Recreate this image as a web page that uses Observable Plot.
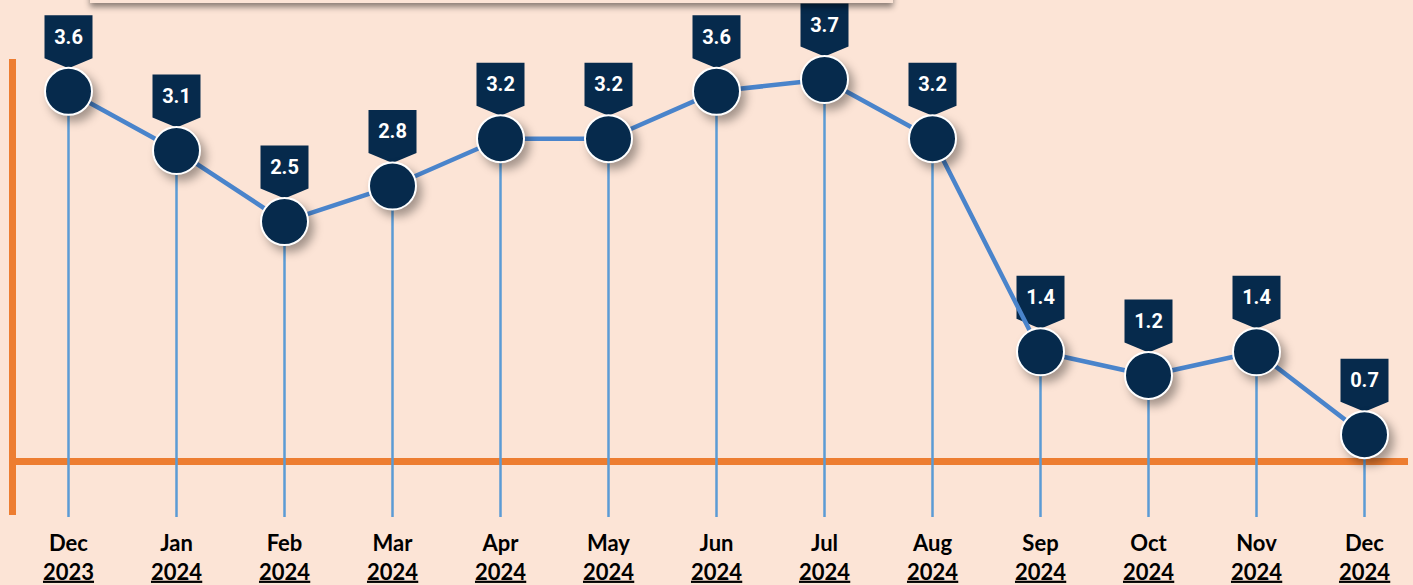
<!DOCTYPE html>
<html>
<head>
<meta charset="utf-8">
<script src="https://cdn.jsdelivr.net/npm/d3@7"></script>
<script src="https://cdn.jsdelivr.net/npm/@observablehq/plot@0.6"></script>
<style>
  html, body { margin: 0; padding: 0; background: #FCE4D6; }
  #wrap { position: relative; width: 1413px; height: 585px; overflow: hidden; background: #FCE4D6; }
  #titlebox { position: absolute; left: 90px; top: -40px; width: 803px; height: 43px; background: #FCE4D6; box-shadow: 0 4px 6px rgba(0,0,0,0.45); }
  #axisV { position: absolute; left: 9px; top: 59px; width: 7px; height: 456px; background: #ED7D31; }
  #axisH { position: absolute; left: 9px; top: 458px; width: 1399px; height: 7px; background: #ED7D31; }
  #chart { position: absolute; left: 0; top: 0; }
  #chart svg { background: transparent !important; overflow: visible; }
</style>
</head>
<body>
<div id="wrap">
  <div id="axisV"></div>
  <div id="axisH"></div>
  <div id="chart"></div>
  <div id="titlebox"></div>
</div>
<script>
const months = ["Dec","Jan","Feb","Mar","Apr","May","Jun","Jul","Aug","Sep","Oct","Nov","Dec"];
const years  = ["2023","2024","2024","2024","2024","2024","2024","2024","2024","2024","2024","2024","2024"];
const values = [3.6, 3.1, 2.5, 2.8, 3.2, 3.2, 3.6, 3.7, 3.2, 1.4, 1.2, 1.4, 0.7];

const data = months.map((m, i) => ({key: m + " " + years[i], month: m, year: years[i], value: values[i]}));

const navy = "#062A4C";
const calloutSymbol = {
  draw(context) {
    context.moveTo(-24, -76);
    context.lineTo(24, -76);
    context.lineTo(24, -33);
    context.lineTo(0, -23);
    context.lineTo(-24, -33);
    context.closePath();
  }
};

const chart = Plot.plot({
  width: 1413,
  height: 585,
  marginLeft: 65,
  marginRight: 47,
  marginTop: 79,
  marginBottom: 68,
  style: {background: "transparent", overflow: "visible"},
  x: {type: "point", domain: data.map(d => d.key), padding: 0, axis: null},
  y: {domain: [0, 3.7], axis: null},
  marks: [
    Plot.ruleX(data, {x: "key", y1: "value", y2: 0, stroke: "#5B9BD5", strokeWidth: 2.5}),
    Plot.dot(data, {x: "key", y: "value", symbol: calloutSymbol, r: 10, fill: navy, stroke: "none"}),
    Plot.lineY(data, {x: "key", y: "value", stroke: "#4A84CB", strokeWidth: 4.5}),
    Plot.dot(data, {x: "key", y: "value", r: 23.5, fill: navy, stroke: "white", strokeWidth: 2}),
    Plot.text(data, {x: "key", y: "value", text: d => d.value.toFixed(1), dy: -54, fill: "white", fontSize: 20, fontWeight: "bold", fontFamily: "Roboto"}),
    Plot.text(data, {x: "key", text: "month", frameAnchor: "bottom", dy: 33, fill: "black", fontSize: 22, fontWeight: "bold", fontFamily: "Lato"}),
    Plot.text(data, {x: "key", text: "year", frameAnchor: "bottom", dy: 62, fill: "black", fontSize: 22, fontWeight: "bold", fontFamily: "Lato"})
  ]
});

document.getElementById("chart").appendChild(chart);
const groups = Array.from(chart.children).filter(n => n.tagName.toLowerCase() === "g");

// soft shadow under the circle markers
const circleG = groups.find(g => g.querySelector("circle"));
if (circleG) d3.select(circleG).style("filter", "drop-shadow(5px 6px 5px rgba(0,0,0,0.35))");

// underline each year label (decoration derived from the rendered text box)
const yearG = groups.find(g => { const t = g.querySelector("text"); return t && t.textContent === years[0]; });
if (yearG) {
  d3.select(yearG).selectAll("text").each(function() {
    const b = this.getBBox();
    d3.select(yearG).append("rect")
      .attr("transform", this.getAttribute("transform"))
      .attr("x", b.x).attr("width", b.width)
      .attr("y", b.y + b.height * 0.86).attr("height", 2.2)
      .attr("fill", "black");
  });
}
</script>
</body>
</html>
